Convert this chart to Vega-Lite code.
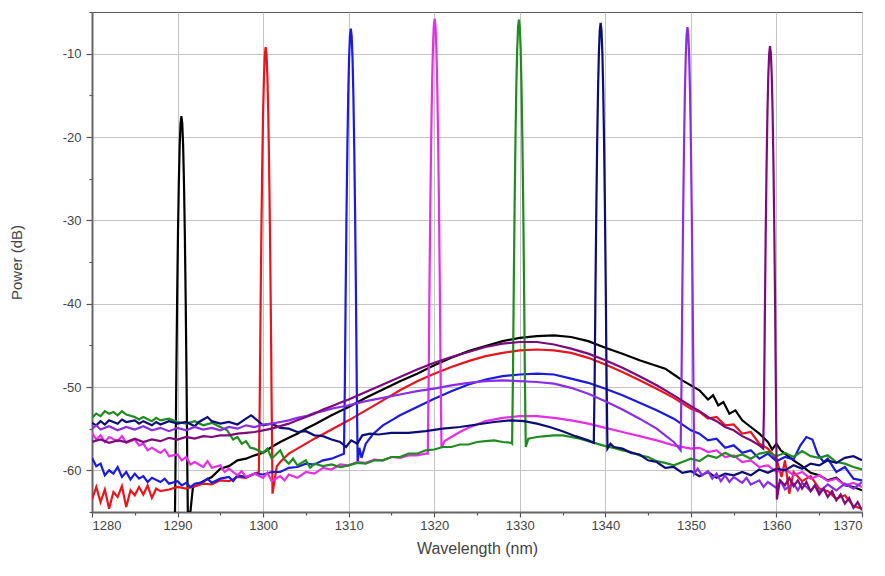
{
"$schema":"https://vega.github.io/schema/vega-lite/v6.json",
"autosize":"none","width":770,"height":500,
"padding":{"left":92,"top":12,"right":23,"bottom":64},
"background":"white",
"config":{"view":{"stroke":"#555","strokeWidth":1},"font":"Liberation Sans",
"axis":{"labelFont":"Liberation Sans","titleFont":"Liberation Sans","labelColor":"#444","titleColor":"#444","titleFontWeight":"normal","labelFontSize":13,"domainColor":"#666","domainWidth":2,"tickColor":"#555","tickWidth":1.2,"gridColor":"#c4c4c4","gridWidth":1}},
"datasets":{
"d1290":[{"x":1289.7,"y":-65},{"x":1289.75,"y":-60.6},{"x":1289.85,"y":-49.2},{"x":1289.95,"y":-39.5},{"x":1290.05,"y":-31.6},{"x":1290.15,"y":-25.4},{"x":1290.25,"y":-21},{"x":1290.35,"y":-18.4},{"x":1290.45,"y":-17.5},{"x":1290.55,"y":-18.4},{"x":1290.65,"y":-21},{"x":1290.75,"y":-25.4},{"x":1290.85,"y":-31.6},{"x":1290.95,"y":-39.5},{"x":1291.05,"y":-49.2},{"x":1291.15,"y":-60.6},{"x":1291.2,"y":-65},{"x":1291.5,"y":-65},{"x":1291.8,"y":-62},{"x":1292.3,"y":-61.8},{"x":1293,"y":-61.3},{"x":1294,"y":-60.8},{"x":1295,"y":-59.8},{"x":1296,"y":-59.5},{"x":1297,"y":-58.8},{"x":1298,"y":-58.6},{"x":1299,"y":-58.2},{"x":1300,"y":-57.9},{"x":1301,"y":-57.2},{"x":1302,"y":-56.6},{"x":1303,"y":-56.1},{"x":1304,"y":-55.6},{"x":1305,"y":-55},{"x":1306,"y":-54.5},{"x":1308,"y":-53.4},{"x":1310,"y":-52.4},{"x":1312,"y":-51.3},{"x":1314,"y":-50.3},{"x":1316,"y":-49.3},{"x":1318,"y":-48.4},{"x":1320,"y":-47.4},{"x":1322,"y":-46.5},{"x":1324,"y":-45.7},{"x":1326,"y":-45.1},{"x":1328,"y":-44.5},{"x":1330,"y":-44.1},{"x":1332,"y":-43.9},{"x":1334,"y":-43.8},{"x":1336,"y":-44},{"x":1338,"y":-44.5},{"x":1340,"y":-45.3},{"x":1342,"y":-46},{"x":1344,"y":-46.8},{"x":1345.5,"y":-47.3},{"x":1347,"y":-47.8},{"x":1348,"y":-48.5},{"x":1349,"y":-49.2},{"x":1350,"y":-49.8},{"x":1351,"y":-50.4},{"x":1352,"y":-51.5},{"x":1352.6,"y":-51},{"x":1353.2,"y":-52.2},{"x":1353.8,"y":-51.8},{"x":1354.5,"y":-53.2},{"x":1355.2,"y":-52.8},{"x":1356,"y":-54},{"x":1357,"y":-54.8},{"x":1358,"y":-55.6},{"x":1359,"y":-56.6},{"x":1359.5,"y":-57.5},{"x":1360,"y":-56.8},{"x":1360.5,"y":-57.6},{"x":1361,"y":-58},{"x":1362,"y":-58.8},{"x":1363,"y":-59.5},{"x":1364,"y":-60.3},{"x":1365,"y":-60.6},{"x":1366,"y":-61.2},{"x":1367,"y":-60.9},{"x":1368,"y":-61.8},{"x":1369,"y":-62},{"x":1370,"y":-62.4}],
"d1300":[{"x":1280,"y":-63.5},{"x":1280.5,"y":-62},{"x":1281,"y":-63.8},{"x":1281.5,"y":-62.3},{"x":1282,"y":-64.6},{"x":1282.5,"y":-62.6},{"x":1283,"y":-63.2},{"x":1283.5,"y":-61.9},{"x":1284,"y":-64.4},{"x":1284.5,"y":-62.4},{"x":1285,"y":-63},{"x":1285.5,"y":-62},{"x":1286,"y":-62.9},{"x":1286.5,"y":-61.8},{"x":1287,"y":-63.3},{"x":1287.5,"y":-62.2},{"x":1288,"y":-62.5},{"x":1289,"y":-62.3},{"x":1290,"y":-62},{"x":1291,"y":-62.2},{"x":1292,"y":-61.9},{"x":1293,"y":-61.6},{"x":1294,"y":-61.7},{"x":1295,"y":-61.2},{"x":1296,"y":-61.3},{"x":1297,"y":-60.8},{"x":1298,"y":-60.9},{"x":1299,"y":-60.4},{"x":1299.5,"y":-60.2},{"x":1299.6,"y":-52.3},{"x":1299.7,"y":-40.9},{"x":1299.8,"y":-31.2},{"x":1299.9,"y":-23.3},{"x":1300.0,"y":-17.1},{"x":1300.1,"y":-12.7},{"x":1300.2,"y":-10.1},{"x":1300.3,"y":-9.2},{"x":1300.4,"y":-10.1},{"x":1300.5,"y":-12.7},{"x":1300.6,"y":-17.1},{"x":1300.7,"y":-23.3},{"x":1300.8,"y":-31.2},{"x":1300.9,"y":-40.9},{"x":1301.0,"y":-52.3},{"x":1301.1,"y":-62.8},{"x":1301.3,"y":-61.5},{"x":1301.6,"y":-59.5},{"x":1302,"y":-59},{"x":1302.5,"y":-58.5},{"x":1303,"y":-58},{"x":1304,"y":-57.4},{"x":1305,"y":-56.8},{"x":1306,"y":-56.2},{"x":1308,"y":-55.1},{"x":1310,"y":-54},{"x":1312,"y":-52.8},{"x":1314,"y":-51.6},{"x":1316,"y":-50.4},{"x":1318,"y":-49.3},{"x":1320,"y":-48.4},{"x":1322,"y":-47.6},{"x":1324,"y":-46.9},{"x":1326,"y":-46.3},{"x":1328,"y":-45.9},{"x":1330,"y":-45.6},{"x":1332,"y":-45.5},{"x":1334,"y":-45.6},{"x":1336,"y":-45.9},{"x":1338,"y":-46.5},{"x":1340,"y":-47.3},{"x":1342,"y":-48.2},{"x":1344,"y":-49.2},{"x":1346,"y":-50.2},{"x":1348,"y":-51.3},{"x":1350,"y":-52.6},{"x":1351,"y":-53},{"x":1352,"y":-53.8},{"x":1353,"y":-53.6},{"x":1354,"y":-54.6},{"x":1355,"y":-54.5},{"x":1356,"y":-55.6},{"x":1357,"y":-55.4},{"x":1358,"y":-56.8},{"x":1359,"y":-57.4},{"x":1360,"y":-58.6},{"x":1360.6,"y":-60.8},{"x":1361,"y":-58.8},{"x":1361.5,"y":-62.8},{"x":1362,"y":-60.2},{"x":1363,"y":-61.3},{"x":1364,"y":-60.7},{"x":1365,"y":-62.2},{"x":1366,"y":-62.5},{"x":1367,"y":-63.4},{"x":1368,"y":-63},{"x":1369,"y":-64.3},{"x":1370,"y":-64.6}],
"d1310":[{"x":1280,"y":-58.5},{"x":1280.5,"y":-59.5},{"x":1281,"y":-59.2},{"x":1281.5,"y":-60.6},{"x":1282,"y":-60},{"x":1282.5,"y":-60.4},{"x":1283,"y":-59.6},{"x":1283.5,"y":-60.8},{"x":1284,"y":-60.2},{"x":1284.5,"y":-61.1},{"x":1285,"y":-60.4},{"x":1285.5,"y":-61},{"x":1286,"y":-60.7},{"x":1286.5,"y":-61.4},{"x":1287,"y":-60.9},{"x":1288,"y":-61.4},{"x":1288.5,"y":-61},{"x":1289,"y":-61.6},{"x":1290,"y":-61.3},{"x":1290.5,"y":-61.8},{"x":1291,"y":-61.5},{"x":1291.5,"y":-62},{"x":1292,"y":-61.6},{"x":1293,"y":-61.4},{"x":1293.5,"y":-61},{"x":1294,"y":-61.5},{"x":1295,"y":-61},{"x":1296,"y":-60.8},{"x":1296.5,"y":-61.3},{"x":1297,"y":-60.6},{"x":1298,"y":-60.8},{"x":1299,"y":-60.4},{"x":1300,"y":-60.5},{"x":1301,"y":-60.2},{"x":1302,"y":-60.2},{"x":1303,"y":-59.7},{"x":1304,"y":-59.6},{"x":1305,"y":-59.2},{"x":1306,"y":-59.3},{"x":1307,"y":-58.8},{"x":1308,"y":-58.6},{"x":1309,"y":-58.2},{"x":1309.45,"y":-58},{"x":1309.55,"y":-50.1},{"x":1309.65,"y":-38.7},{"x":1309.75,"y":-29},{"x":1309.85,"y":-21.1},{"x":1309.95,"y":-14.9},{"x":1310.05,"y":-10.5},{"x":1310.15,"y":-7.9},{"x":1310.25,"y":-7},{"x":1310.35,"y":-7.9},{"x":1310.45,"y":-10.5},{"x":1310.55,"y":-14.9},{"x":1310.65,"y":-21.1},{"x":1310.75,"y":-29},{"x":1310.85,"y":-38.7},{"x":1310.95,"y":-50.1},{"x":1311.05,"y":-59},{"x":1311.25,"y":-57.3},{"x":1311.5,"y":-58.5},{"x":1312,"y":-56.8},{"x":1312.8,"y":-55.7},{"x":1314,"y":-54.6},{"x":1315,"y":-54},{"x":1316,"y":-53.4},{"x":1318,"y":-52.4},{"x":1320,"y":-51.4},{"x":1322,"y":-50.5},{"x":1324,"y":-49.7},{"x":1326,"y":-49.1},{"x":1328,"y":-48.7},{"x":1330,"y":-48.5},{"x":1332,"y":-48.4},{"x":1334,"y":-48.5},{"x":1336,"y":-49},{"x":1338,"y":-49.5},{"x":1340,"y":-50.2},{"x":1342,"y":-51},{"x":1344,"y":-51.9},{"x":1346,"y":-52.8},{"x":1348,"y":-53.8},{"x":1350,"y":-55.2},{"x":1351,"y":-55.6},{"x":1352,"y":-56.4},{"x":1353,"y":-56.2},{"x":1354,"y":-57.3},{"x":1355,"y":-57},{"x":1356,"y":-57.9},{"x":1357,"y":-57.6},{"x":1358,"y":-58.6},{"x":1359,"y":-58},{"x":1360,"y":-58.9},{"x":1361,"y":-58.4},{"x":1362,"y":-58.7},{"x":1362.8,"y":-57},{"x":1363.5,"y":-56},{"x":1364.2,"y":-56.3},{"x":1364.8,"y":-58},{"x":1365.5,"y":-59},{"x":1366,"y":-58.6},{"x":1367,"y":-60.2},{"x":1368,"y":-59.6},{"x":1369,"y":-61},{"x":1370,"y":-61.2}],
"d1320":[{"x":1280,"y":-55.5},{"x":1280.5,"y":-56.3},{"x":1281,"y":-55.8},{"x":1281.5,"y":-56.6},{"x":1282,"y":-56},{"x":1283,"y":-56.5},{"x":1283.5,"y":-55.9},{"x":1284,"y":-56.7},{"x":1285,"y":-56.3},{"x":1285.5,"y":-57},{"x":1286,"y":-56.8},{"x":1286.5,"y":-57.6},{"x":1287,"y":-57.3},{"x":1288,"y":-57.9},{"x":1288.5,"y":-57.5},{"x":1289,"y":-58.3},{"x":1290,"y":-58.1},{"x":1290.5,"y":-58.8},{"x":1291,"y":-58.4},{"x":1291.5,"y":-59.3},{"x":1292,"y":-59},{"x":1293,"y":-59.6},{"x":1293.5,"y":-58.9},{"x":1294,"y":-59.7},{"x":1295,"y":-59.4},{"x":1295.5,"y":-60.2},{"x":1296,"y":-59.8},{"x":1297,"y":-60.6},{"x":1297.5,"y":-60.1},{"x":1298,"y":-60.8},{"x":1299,"y":-60.4},{"x":1300,"y":-60.9},{"x":1300.5,"y":-60.3},{"x":1301,"y":-61.3},{"x":1302,"y":-60.7},{"x":1302.5,"y":-61.2},{"x":1303,"y":-60.5},{"x":1304,"y":-60.9},{"x":1305,"y":-60.2},{"x":1306,"y":-60.4},{"x":1307,"y":-59.7},{"x":1308,"y":-59.9},{"x":1309,"y":-59.3},{"x":1310,"y":-59.4},{"x":1311,"y":-59},{"x":1312,"y":-59.1},{"x":1313,"y":-58.7},{"x":1314,"y":-58.8},{"x":1315,"y":-58.4},{"x":1316,"y":-58.5},{"x":1317,"y":-58.2},{"x":1318,"y":-58.2},{"x":1319,"y":-58},{"x":1319.25,"y":-58},{"x":1319.35,"y":-48.9},{"x":1319.45,"y":-37.5},{"x":1319.55,"y":-27.8},{"x":1319.65,"y":-19.9},{"x":1319.75,"y":-13.7},{"x":1319.85,"y":-9.3},{"x":1319.95,"y":-6.7},{"x":1320.05,"y":-5.8},{"x":1320.15,"y":-6.7},{"x":1320.25,"y":-9.3},{"x":1320.35,"y":-13.7},{"x":1320.45,"y":-19.9},{"x":1320.55,"y":-27.8},{"x":1320.65,"y":-37.5},{"x":1320.75,"y":-48.9},{"x":1320.85,"y":-57.3},{"x":1321.2,"y":-56.5},{"x":1322,"y":-56},{"x":1323,"y":-55.4},{"x":1324,"y":-54.9},{"x":1326,"y":-54.1},{"x":1328,"y":-53.7},{"x":1330,"y":-53.5},{"x":1332,"y":-53.5},{"x":1334,"y":-53.7},{"x":1336,"y":-54},{"x":1338,"y":-54.4},{"x":1340,"y":-54.9},{"x":1342,"y":-55.4},{"x":1344,"y":-55.9},{"x":1346,"y":-56.4},{"x":1348,"y":-57},{"x":1350,"y":-57.4},{"x":1351,"y":-57.3},{"x":1352,"y":-57.8},{"x":1353,"y":-57.6},{"x":1354,"y":-58.4},{"x":1355,"y":-58.2},{"x":1356,"y":-59},{"x":1357,"y":-58.8},{"x":1358,"y":-59.6},{"x":1359,"y":-59.4},{"x":1360,"y":-60.2},{"x":1361,"y":-59.8},{"x":1362,"y":-60.6},{"x":1363,"y":-60.2},{"x":1364,"y":-61},{"x":1365,"y":-60.6},{"x":1366,"y":-61.3},{"x":1367,"y":-61},{"x":1368,"y":-61.8},{"x":1369,"y":-61.5},{"x":1370,"y":-62}],
"d1330":[{"x":1280,"y":-53.7},{"x":1280.5,"y":-53.2},{"x":1281,"y":-53.5},{"x":1281.5,"y":-52.9},{"x":1282,"y":-53.2},{"x":1282.5,"y":-53},{"x":1283,"y":-53.4},{"x":1283.5,"y":-52.9},{"x":1284,"y":-53.3},{"x":1285,"y":-53.6},{"x":1285.5,"y":-53.9},{"x":1286,"y":-53.6},{"x":1287,"y":-54.1},{"x":1287.5,"y":-53.7},{"x":1288,"y":-54},{"x":1289,"y":-53.8},{"x":1290,"y":-54.2},{"x":1291,"y":-54.4},{"x":1292,"y":-54.1},{"x":1293,"y":-54.6},{"x":1294,"y":-54.3},{"x":1295,"y":-54.8},{"x":1295.8,"y":-55.2},{"x":1296.5,"y":-56.3},{"x":1297,"y":-56},{"x":1297.5,"y":-56.8},{"x":1298,"y":-56.5},{"x":1298.5,"y":-57.3},{"x":1299,"y":-57.4},{"x":1300,"y":-57.9},{"x":1300.5,"y":-57.4},{"x":1301,"y":-58.6},{"x":1301.5,"y":-58.1},{"x":1302,"y":-57.6},{"x":1302.5,"y":-58.7},{"x":1303,"y":-59.2},{"x":1303.5,"y":-58.6},{"x":1304,"y":-59.4},{"x":1305,"y":-58.8},{"x":1305.5,"y":-59.7},{"x":1306,"y":-59.2},{"x":1307,"y":-59.5},{"x":1308,"y":-59.3},{"x":1309,"y":-59.6},{"x":1310,"y":-59.4},{"x":1311,"y":-59.1},{"x":1312,"y":-59.2},{"x":1313,"y":-58.8},{"x":1314,"y":-58.8},{"x":1315,"y":-58.4},{"x":1316,"y":-58.4},{"x":1317,"y":-58},{"x":1318,"y":-58},{"x":1319,"y":-57.6},{"x":1320,"y":-57.5},{"x":1321,"y":-57.2},{"x":1322,"y":-57.2},{"x":1323,"y":-56.9},{"x":1324,"y":-56.9},{"x":1325,"y":-56.6},{"x":1326,"y":-56.5},{"x":1327,"y":-56.4},{"x":1328,"y":-56.6},{"x":1329,"y":-56.7},{"x":1329.1,"y":-56.8},{"x":1329.2,"y":-49},{"x":1329.3,"y":-37.6},{"x":1329.4,"y":-27.9},{"x":1329.5,"y":-20},{"x":1329.6,"y":-13.8},{"x":1329.7,"y":-9.4},{"x":1329.8,"y":-6.8},{"x":1329.9,"y":-5.9},{"x":1330.0,"y":-6.8},{"x":1330.1,"y":-9.4},{"x":1330.2,"y":-13.8},{"x":1330.3,"y":-20},{"x":1330.4,"y":-27.9},{"x":1330.5,"y":-37.6},{"x":1330.6,"y":-49},{"x":1330.7,"y":-57.2},{"x":1331,"y":-56.2},{"x":1332,"y":-56},{"x":1333,"y":-55.9},{"x":1334,"y":-55.8},{"x":1335,"y":-55.8},{"x":1336,"y":-56},{"x":1337,"y":-56.2},{"x":1338,"y":-56.5},{"x":1339,"y":-56.8},{"x":1340,"y":-57.1},{"x":1341,"y":-57.3},{"x":1342,"y":-57.6},{"x":1343,"y":-57.8},{"x":1344,"y":-58.2},{"x":1345,"y":-58.4},{"x":1346,"y":-58.9},{"x":1347,"y":-59.1},{"x":1348,"y":-59.4},{"x":1349,"y":-59},{"x":1350,"y":-58.6},{"x":1351,"y":-58.9},{"x":1352,"y":-58.2},{"x":1353,"y":-58.5},{"x":1354,"y":-57.9},{"x":1355,"y":-58.4},{"x":1356,"y":-58.1},{"x":1357,"y":-58.6},{"x":1358,"y":-58},{"x":1359,"y":-57.8},{"x":1360,"y":-58.3},{"x":1361,"y":-57.9},{"x":1362,"y":-58.4},{"x":1363,"y":-57.7},{"x":1364,"y":-58.3},{"x":1365,"y":-58.5},{"x":1366,"y":-58.2},{"x":1367,"y":-59},{"x":1368,"y":-59.2},{"x":1369,"y":-59.6},{"x":1370,"y":-59.9}],
"d1340":[{"x":1280,"y":-54.3},{"x":1280.5,"y":-54.6},{"x":1281,"y":-54.1},{"x":1281.5,"y":-54.5},{"x":1282,"y":-54},{"x":1283,"y":-54.4},{"x":1283.5,"y":-53.9},{"x":1284,"y":-54.2},{"x":1285,"y":-54},{"x":1285.5,"y":-54.4},{"x":1286,"y":-54.1},{"x":1287,"y":-54.6},{"x":1287.5,"y":-54.2},{"x":1288,"y":-54.5},{"x":1289,"y":-54.1},{"x":1290,"y":-54.4},{"x":1291,"y":-54.2},{"x":1292,"y":-54.7},{"x":1292.5,"y":-54.2},{"x":1293,"y":-53.9},{"x":1293.5,"y":-53.6},{"x":1294,"y":-54.1},{"x":1295,"y":-54.4},{"x":1296,"y":-54.2},{"x":1297,"y":-54.5},{"x":1298,"y":-53.8},{"x":1298.6,"y":-53.4},{"x":1299.2,"y":-53.9},{"x":1300,"y":-54.6},{"x":1301,"y":-54.4},{"x":1302,"y":-54.9},{"x":1303,"y":-55},{"x":1304,"y":-55.4},{"x":1305,"y":-55.3},{"x":1306,"y":-55.8},{"x":1307,"y":-55.9},{"x":1308,"y":-56.3},{"x":1309,"y":-56.6},{"x":1309.7,"y":-57.2},{"x":1310.3,"y":-56.4},{"x":1311,"y":-56.8},{"x":1311.6,"y":-55.8},{"x":1312.5,"y":-55.6},{"x":1313.5,"y":-55.7},{"x":1315,"y":-55.5},{"x":1317,"y":-55.5},{"x":1319,"y":-55.3},{"x":1321,"y":-55},{"x":1323,"y":-54.8},{"x":1325,"y":-54.5},{"x":1327,"y":-54.2},{"x":1329,"y":-54},{"x":1330.5,"y":-54.1},{"x":1332,"y":-54.4},{"x":1333.5,"y":-54.8},{"x":1335,"y":-55.3},{"x":1336.5,"y":-55.9},{"x":1338,"y":-56.4},{"x":1338.65,"y":-56.7},{"x":1338.75,"y":-49.4},{"x":1338.85,"y":-38},{"x":1338.95,"y":-28.3},{"x":1339.05,"y":-20.4},{"x":1339.15,"y":-14.2},{"x":1339.25,"y":-9.8},{"x":1339.35,"y":-7.2},{"x":1339.45,"y":-6.3},{"x":1339.55,"y":-7.2},{"x":1339.65,"y":-9.8},{"x":1339.75,"y":-14.2},{"x":1339.85,"y":-20.4},{"x":1339.95,"y":-28.3},{"x":1340.05,"y":-38},{"x":1340.15,"y":-49.4},{"x":1340.25,"y":-57.4},{"x":1340.6,"y":-56.8},{"x":1341,"y":-57.2},{"x":1342,"y":-57.4},{"x":1343,"y":-57.9},{"x":1344,"y":-58.1},{"x":1345,"y":-58.8},{"x":1346,"y":-59},{"x":1347,"y":-59.7},{"x":1348,"y":-59.6},{"x":1349,"y":-60.3},{"x":1350,"y":-60.1},{"x":1351,"y":-60.7},{"x":1352,"y":-60.2},{"x":1353,"y":-60.9},{"x":1354,"y":-60.4},{"x":1355,"y":-60.6},{"x":1356,"y":-60.2},{"x":1357,"y":-60.6},{"x":1358,"y":-59.9},{"x":1359,"y":-60.3},{"x":1360,"y":-59.8},{"x":1361,"y":-60},{"x":1362,"y":-59.4},{"x":1363,"y":-59.8},{"x":1364,"y":-59.2},{"x":1365,"y":-59.4},{"x":1366,"y":-58.8},{"x":1367,"y":-59.1},{"x":1368,"y":-58.5},{"x":1369,"y":-58.3},{"x":1370,"y":-58.8}],
"d1350":[{"x":1280,"y":-55},{"x":1280.5,"y":-54.6},{"x":1281,"y":-55.1},{"x":1282,"y":-54.7},{"x":1283,"y":-55.2},{"x":1284,"y":-54.8},{"x":1285,"y":-55.1},{"x":1286,"y":-54.7},{"x":1287,"y":-55.2},{"x":1288,"y":-54.9},{"x":1289,"y":-55.3},{"x":1290,"y":-54.9},{"x":1291,"y":-55.2},{"x":1292,"y":-54.8},{"x":1293,"y":-55.1},{"x":1294,"y":-54.9},{"x":1295,"y":-55.2},{"x":1296,"y":-54.8},{"x":1297,"y":-55},{"x":1298,"y":-54.6},{"x":1299,"y":-54.8},{"x":1300,"y":-54.5},{"x":1301,"y":-54.4},{"x":1302,"y":-54.2},{"x":1303,"y":-54},{"x":1304,"y":-53.7},{"x":1305,"y":-53.5},{"x":1306,"y":-53.1},{"x":1307,"y":-52.9},{"x":1308,"y":-52.6},{"x":1309,"y":-52.4},{"x":1310,"y":-52.2},{"x":1312,"y":-51.7},{"x":1314,"y":-51.3},{"x":1316,"y":-50.9},{"x":1318,"y":-50.5},{"x":1320,"y":-50.2},{"x":1322,"y":-49.8},{"x":1324,"y":-49.5},{"x":1326,"y":-49.3},{"x":1328,"y":-49.2},{"x":1330,"y":-49.3},{"x":1332,"y":-49.4},{"x":1334,"y":-49.6},{"x":1336,"y":-50.1},{"x":1338,"y":-50.8},{"x":1340,"y":-51.7},{"x":1342,"y":-52.7},{"x":1344,"y":-53.8},{"x":1346,"y":-55},{"x":1347,"y":-55.8},{"x":1348,"y":-56.6},{"x":1348.8,"y":-57.6},{"x":1348.9,"y":-49.9},{"x":1349.0,"y":-38.5},{"x":1349.1,"y":-28.8},{"x":1349.2,"y":-20.9},{"x":1349.3,"y":-14.7},{"x":1349.4,"y":-10.3},{"x":1349.5,"y":-7.7},{"x":1349.6,"y":-6.8},{"x":1349.7,"y":-7.7},{"x":1349.8,"y":-10.3},{"x":1349.9,"y":-14.7},{"x":1350.0,"y":-20.9},{"x":1350.1,"y":-28.8},{"x":1350.2,"y":-38.5},{"x":1350.3,"y":-49.9},{"x":1350.4,"y":-60.4},{"x":1350.8,"y":-59.8},{"x":1351.3,"y":-60.6},{"x":1352,"y":-60.1},{"x":1352.5,"y":-61},{"x":1353,"y":-60.4},{"x":1353.5,"y":-61.3},{"x":1354,"y":-60.6},{"x":1354.5,"y":-61.4},{"x":1355,"y":-60.8},{"x":1356,"y":-61.5},{"x":1356.5,"y":-60.9},{"x":1357,"y":-61.7},{"x":1358,"y":-61.2},{"x":1358.5,"y":-62},{"x":1359,"y":-61.4},{"x":1360,"y":-62.1},{"x":1360.5,"y":-61.3},{"x":1361,"y":-62.3},{"x":1362,"y":-61.6},{"x":1362.5,"y":-62.4},{"x":1363,"y":-61.5},{"x":1364,"y":-62.5},{"x":1364.5,"y":-61.8},{"x":1365,"y":-62.6},{"x":1366,"y":-61.7},{"x":1367,"y":-62.4},{"x":1368,"y":-61.6},{"x":1369,"y":-62.2},{"x":1370,"y":-61.4}],
"d1360":[{"x":1280,"y":-56.6},{"x":1281,"y":-56.3},{"x":1282,"y":-56.7},{"x":1283,"y":-56.4},{"x":1284,"y":-56.6},{"x":1285,"y":-56.2},{"x":1286,"y":-56.6},{"x":1287,"y":-56.3},{"x":1288,"y":-56.5},{"x":1289,"y":-56.1},{"x":1290,"y":-56.3},{"x":1291,"y":-56},{"x":1292,"y":-56.2},{"x":1293,"y":-55.9},{"x":1294,"y":-56},{"x":1295,"y":-55.8},{"x":1296,"y":-55.8},{"x":1297,"y":-55.6},{"x":1298,"y":-55.5},{"x":1299,"y":-55.4},{"x":1300,"y":-55.2},{"x":1301,"y":-55},{"x":1302,"y":-54.7},{"x":1303,"y":-54.4},{"x":1304,"y":-54},{"x":1305,"y":-53.6},{"x":1306,"y":-53.2},{"x":1307,"y":-52.7},{"x":1308,"y":-52.3},{"x":1309,"y":-51.9},{"x":1310,"y":-51.5},{"x":1312,"y":-50.6},{"x":1314,"y":-49.7},{"x":1316,"y":-48.8},{"x":1318,"y":-47.9},{"x":1320,"y":-47.1},{"x":1322,"y":-46.4},{"x":1324,"y":-45.8},{"x":1326,"y":-45.2},{"x":1328,"y":-44.8},{"x":1330,"y":-44.6},{"x":1332,"y":-44.6},{"x":1334,"y":-44.9},{"x":1336,"y":-45.4},{"x":1338,"y":-46},{"x":1340,"y":-46.8},{"x":1342,"y":-47.7},{"x":1344,"y":-48.7},{"x":1346,"y":-49.8},{"x":1348,"y":-51},{"x":1350,"y":-52.3},{"x":1351,"y":-52.9},{"x":1352,"y":-53.6},{"x":1353,"y":-54.1},{"x":1354,"y":-54.8},{"x":1355,"y":-55.2},{"x":1356,"y":-55.9},{"x":1357,"y":-56.4},{"x":1358,"y":-57},{"x":1358.45,"y":-57.4},{"x":1358.55,"y":-52.2},{"x":1358.65,"y":-40.8},{"x":1358.75,"y":-31.1},{"x":1358.85,"y":-23.2},{"x":1358.95,"y":-17},{"x":1359.05,"y":-12.6},{"x":1359.15,"y":-10},{"x":1359.25,"y":-9.1},{"x":1359.35,"y":-10},{"x":1359.45,"y":-12.6},{"x":1359.55,"y":-17},{"x":1359.65,"y":-23.2},{"x":1359.75,"y":-31.1},{"x":1359.85,"y":-40.8},{"x":1359.95,"y":-52.2},{"x":1360.05,"y":-63.5},{"x":1360.4,"y":-61.2},{"x":1361,"y":-61.8},{"x":1361.5,"y":-60.9},{"x":1362,"y":-61.9},{"x":1362.5,"y":-61.2},{"x":1363,"y":-62.2},{"x":1363.5,"y":-61.4},{"x":1364,"y":-62.5},{"x":1364.5,"y":-61.8},{"x":1365,"y":-62.9},{"x":1365.5,"y":-62.2},{"x":1366,"y":-63.2},{"x":1366.5,"y":-62.5},{"x":1367,"y":-63.6},{"x":1367.5,"y":-62.9},{"x":1368,"y":-64},{"x":1368.5,"y":-63.3},{"x":1369,"y":-64.5},{"x":1369.5,"y":-63.8},{"x":1370,"y":-64.8}]
},
"encoding":{
"x":{"field":"x","type":"quantitative","scale":{"domain":[1280,1370],"nice":false,"zero":false},
"axis":{"title":"Wavelength (nm)","titleFontSize":16,"titlePadding":8,"labelPadding":2,
"values":[1280,1285,1290,1295,1300,1305,1310,1315,1320,1325,1330,1335,1340,1345,1350,1355,1360,1365,1370],
"labelExpr":"datum.value % 10 === 0 ? '' + datum.value : ''",
"tickSize":{"condition":{"test":"datum.value % 10 === 0","value":5},"value":3},
"gridOpacity":{"condition":{"test":"datum.value % 10 === 0","value":1},"value":0}}},
"y":{"field":"y","type":"quantitative","scale":{"domain":[-65,-5],"nice":false,"zero":false},
"axis":{"title":"Power (dB)","titleFontSize":15,"titlePadding":38,"labelPadding":5,
"values":[-65,-60,-55,-50,-45,-40,-35,-30,-25,-20,-15,-10,-5],
"labelExpr":"datum.value % 10 === 0 ? '' + datum.value : ''",
"tickSize":{"condition":{"test":"datum.value % 10 === 0","value":6},"value":3},
"gridOpacity":{"condition":{"test":"datum.value % 10 === 0","value":1},"value":0}}}
},
"layer":[
{"data":{"name":"d1290"},"mark":{"type":"line","clip":true,"strokeWidth":2.2,"color":"#000000"}},
{"data":{"name":"d1300"},"mark":{"type":"line","clip":true,"strokeWidth":2.2,"color":"#e8161c"}},
{"data":{"name":"d1310"},"mark":{"type":"line","clip":true,"strokeWidth":2.2,"color":"#1a1ae0"}},
{"data":{"name":"d1320"},"mark":{"type":"line","clip":true,"strokeWidth":2.2,"color":"#e52ee5"}},
{"data":{"name":"d1330"},"mark":{"type":"line","clip":true,"strokeWidth":2.2,"color":"#1f8c1f"}},
{"data":{"name":"d1340"},"mark":{"type":"line","clip":true,"strokeWidth":2.2,"color":"#0c0c78"}},
{"data":{"name":"d1350"},"mark":{"type":"line","clip":true,"strokeWidth":2.2,"color":"#8a2ee6"}},
{"data":{"name":"d1360"},"mark":{"type":"line","clip":true,"strokeWidth":2.2,"color":"#7d0a7d"}}
]
}
